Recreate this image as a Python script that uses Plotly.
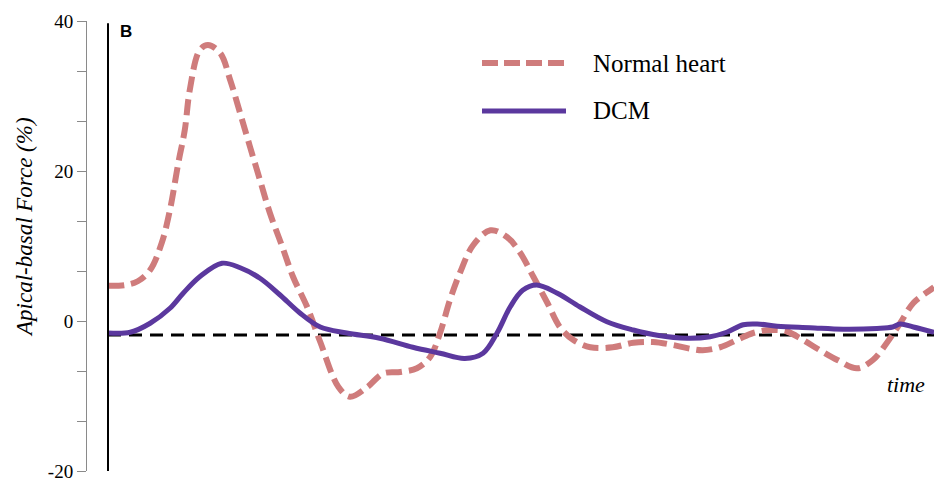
import plotly.graph_objects as go

# Time axis (arbitrary units, 0-100) and apical-basal force (%) for each case
time_normal = [0, 2.1, 3.6, 5.1, 6.5, 7.5, 8.5, 9.3, 9.9, 11.1, 12.1, 13.6, 14.8, 16.0,
               17.2, 18.4, 19.6, 21.1, 22.4, 24.1, 25.7, 27.9, 29.3, 31.4, 33.3, 35.4,
               37.4, 39.0, 40.2, 41.4, 42.6, 44.2, 46.3, 48.3, 49.9, 51.5, 53.2, 54.7,
               56.3, 58.4, 61.1, 63.6, 66.0, 68.4, 70.5, 72.0, 74.1, 76.2, 78.1, 80.2,
               82.2, 84.1, 86.2, 88.3, 90.7, 92.6, 94.3, 95.9, 97.5, 99.5, 100]
force_normal = [4.7, 4.8, 5.3, 6.8, 10.4, 14.8, 21.0, 25.5, 30.8, 36.1, 36.8, 35.7, 32.1,
                27.7, 23.2, 18.8, 14.4, 9.9, 5.9, 1.9, -2.8, -8.8, -10.1, -8.8, -7.0, -6.8,
                -6.3, -4.8, -1.6, 2.8, 6.4, 10.1, 12.1, 11.2, 9.1, 5.9, 2.4, -0.8, -2.5,
                -3.5, -3.5, -2.9, -2.8, -3.2, -3.7, -3.9, -3.5, -2.5, -1.6, -1.2, -1.4,
                -2.5, -3.9, -5.2, -6.3, -5.2, -2.9, -0.3, 2.4, 4.1, 4.5]

time_dcm = [0, 2.7, 5.1, 7.5, 9.1, 11.1, 13.8, 16.0, 18.4, 20.8, 23.2, 25.7, 28.9, 32.9,
            36.9, 40.2, 43.2, 45.4, 47.1, 48.7, 50.2, 51.9, 54.4, 57.1, 60.4, 63.6, 66.5,
            70.1, 72.9, 74.9, 76.9, 78.6, 81.0, 85.0, 89.0, 93.1, 95.0, 95.9, 97.5, 100]
force_dcm = [-1.6, -1.5, -0.3, 1.7, 3.7, 5.9, 7.7, 7.1, 5.7, 3.5, 1.1, -0.8, -1.6, -2.3,
             -3.5, -4.3, -5.0, -4.3, -1.6, 1.9, 4.1, 4.8, 3.7, 1.9, -0.1, -1.2, -1.9,
             -2.3, -2.1, -1.5, -0.5, -0.4, -0.7, -0.9, -1.1, -1.0, -0.8, -0.4, -0.8, -1.5]

baseline = -1.85
time_span = [0, 100]

y_ticks = [-20 + i * 20 / 3 for i in range(10)]
y_labels = ["-20", "", "", "0", "", "", "20", "", "", "40"]

NORMAL_COLOR = "#CF7C7C"
DCM_COLOR = "#5B389E"
SERIF = "Liberation Serif, Times New Roman, serif"

fig = go.Figure()

fig.add_trace(go.Scatter(
    x=time_span, y=[baseline, baseline], mode="lines",
    line=dict(color="black", width=3, dash="13px,8px"),
    showlegend=False, hoverinfo="skip"))

fig.add_trace(go.Scatter(
    x=time_normal, y=force_normal, mode="lines", name="Normal heart",
    line=dict(color=NORMAL_COLOR, width=6, dash="16px,7px", shape="spline", smoothing=1),
    showlegend=False))

fig.add_trace(go.Scatter(
    x=time_dcm, y=force_dcm, mode="lines", name="DCM",
    line=dict(color=DCM_COLOR, width=5, shape="spline", smoothing=1),
    showlegend=False))

# vertical reference line at the start of the cycle
fig.add_shape(type="line", xref="x", yref="paper", x0=0, x1=0, y0=0.0, y1=0.995,
              line=dict(color="black", width=2))

# hand-placed legend
legend_items = [("Normal heart", NORMAL_COLOR, "16px,6px", 6, 63),
                ("DCM", DCM_COLOR, "solid", 5, 111)]
for label, color, dash, width, ypx in legend_items:
    yp = 1 - (ypx - 21) / 450
    fig.add_shape(type="line", xref="paper", yref="paper",
                  x0=(482 - 87) / 847, x1=(566 - 87) / 847, y0=yp, y1=yp,
                  line=dict(color=color, width=width, dash=dash))
    fig.add_annotation(x=(591 - 87) / 847, y=yp, xref="paper", yref="paper",
                       text=label, showarrow=False, xanchor="left", yanchor="middle",
                       font=dict(family=SERIF, size=25, color="black"))

fig.add_annotation(x=(118 - 87) / 847, y=1 - (31 - 21) / 450, xref="paper", yref="paper",
                   text="<b>B</b>", showarrow=False, xanchor="left", yanchor="middle",
                   font=dict(family="Liberation Sans, Arial, sans-serif", size=17, color="black"))

fig.add_annotation(x=(927 - 87) / 847, y=1 - (384 - 21) / 450, xref="paper", yref="paper",
                   text="<i>time</i>", showarrow=False, xanchor="right", yanchor="middle",
                   font=dict(family=SERIF, size=22, color="black"))

fig.add_annotation(x=(24 - 87) / 847, y=1 - (227 - 21) / 450, xref="paper", yref="paper",
                   text="<i>Apical-basal Force (%)</i>", showarrow=False, textangle=-90,
                   xanchor="center", yanchor="middle",
                   font=dict(family=SERIF, size=23, color="black"))

fig.update_layout(
    width=934, height=482,
    margin=dict(l=87, r=0, t=21, b=11),
    plot_bgcolor="white", paper_bgcolor="white",
    xaxis=dict(range=[-21 / 8.26, 100], visible=False, fixedrange=True),
    yaxis=dict(range=[-20, 40], tickvals=y_ticks, ticktext=y_labels,
               showgrid=False, zeroline=False, showline=True, linecolor="#8a8a8a",
               linewidth=1, ticks="outside", ticklen=9, tickcolor="#8a8a8a",
               tickwidth=1, ticklabelstandoff=0,
               tickfont=dict(family=SERIF, size=19, color="black")),
)

fig.write_html("out.html")
